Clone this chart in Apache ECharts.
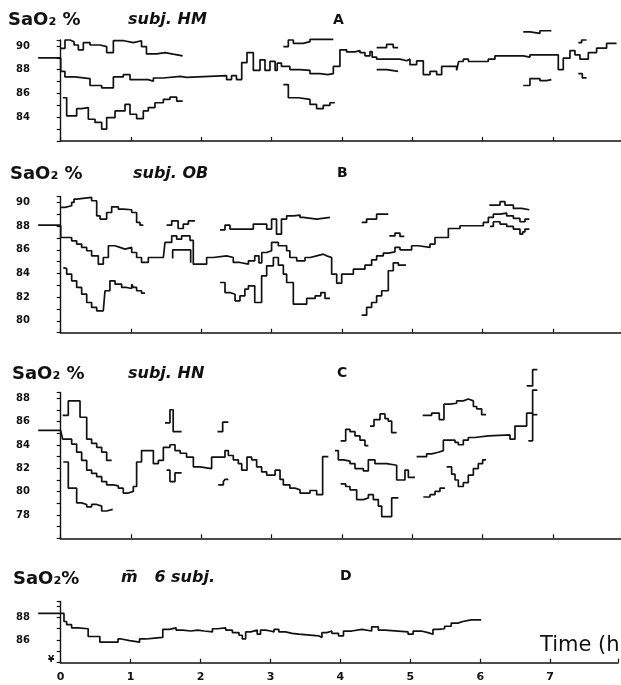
<!DOCTYPE html>
<html>
<head>
<meta charset="utf-8">
<script src="https://cdn.jsdelivr.net/npm/echarts@6/dist/echarts.min.js"></script>
<style>
  html, body { margin: 0; padding: 0; background: #fff; }
  #chart { width: 621px; height: 685px; }
</style>
</head>
<body>
<div id="chart"></div>
<script>
// time axis labels (hours)
const hourLabels = ['0', '1', '2', '3', '4', '5', '6', '7']

// ---- A: subj. HM  (points are [time h, SaO2 %], value holds until next point)
const hmPre = [[-0.32, 89.0], [0, 89.0]]
const hmMid = [[0, 89.0], [0.0, 87.86], [0.06, 87.39], [0.2, 87.25], [0.417, 86.67], [0.583, 86.47], [0.749, 87.39], [0.89, 87.58], [0.986, 87.17], [1.246, 87.03], [1.318, 87.3], [1.46, 87.44], [1.7, 87.35], [1.79, 87.5], [2.36, 87.17], [2.43, 87.5], [2.5, 87.17], [2.575, 88.6], [2.65, 89.44], [2.74, 87.94], [2.835, 88.83], [2.906, 87.94], [2.977, 88.7], [3.05, 87.94], [3.08, 88.56], [3.14, 88.28], [3.26, 88.0], [3.404, 87.94], [3.546, 87.67], [3.688, 87.58], [3.8, 87.67], [3.878, 88.28], [3.972, 89.67], [4.067, 89.5], [4.186, 89.61], [4.257, 89.44], [4.328, 89.17], [4.399, 89.53], [4.43, 89.06], [4.494, 88.89], [4.826, 88.75], [4.921, 88.89], [4.968, 88.42], [5.063, 88.75], [5.158, 87.58], [5.253, 87.86], [5.348, 87.58], [5.419, 88.28], [5.632, 87.94], [5.66, 88.69], [5.727, 88.89], [5.8, 88.69], [6.082, 88.89], [6.177, 89.17], [6.58, 89.06], [6.675, 89.25], [7.078, 88.0], [7.149, 88.97], [7.244, 89.61], [7.315, 89.25], [7.386, 88.89], [7.505, 89.44], [7.623, 89.81], [7.765, 90.22], [7.907, 90.22]]
const hmUp1 = [[0.0, 89.8], [0.061, 90.5], [0.132, 90.36], [0.19, 90.08], [0.251, 89.67], [0.322, 90.28], [0.417, 90.08], [0.56, 89.94], [0.654, 89.44], [0.749, 90.44], [0.9, 90.28], [1.033, 90.44], [1.15, 89.94], [1.22, 89.33], [1.365, 89.44], [1.483, 89.31], [1.6, 89.17], [1.735, 89.17]]
const hmUp2 = [[3.167, 89.94], [3.238, 90.5], [3.309, 90.22], [3.45, 90.36], [3.546, 90.56], [3.878, 90.56]]
const hmUp3 = [[4.494, 89.86], [4.636, 90.14], [4.73, 89.86], [4.8, 89.86]]
const hmUp4 = [[6.58, 91.19], [6.675, 91.06], [6.817, 91.28], [6.98, 91.28]]
const hmUp5 = [[7.363, 90.28], [7.41, 90.5], [7.48, 90.5]]
const hmMid2 = [[4.494, 88.0], [4.636, 87.86], [4.8, 87.86]]
const hmMid3 = [[7.363, 87.67], [7.42, 87.31], [7.48, 87.31]]
const hmLow1 = [[0.03, 85.64], [0.085, 84.11], [0.227, 84.72], [0.298, 84.81], [0.393, 83.83], [0.488, 83.56], [0.583, 83.0], [0.654, 83.97], [0.773, 84.53], [0.915, 85.08], [0.986, 84.25], [1.08, 83.89], [1.175, 84.53], [1.246, 84.81], [1.341, 85.22], [1.46, 85.5], [1.554, 85.69], [1.65, 85.36], [1.735, 85.36]]
const hmLow2 = [[3.167, 86.75], [3.238, 85.64], [3.38, 85.5], [3.546, 85.08], [3.64, 84.72], [3.735, 85.0], [3.83, 85.22], [3.9, 85.22]]
const hmLow3 = [[6.58, 86.67], [6.675, 87.25], [6.817, 87.08], [6.91, 87.17], [6.98, 87.17]]

// ---- B: subj. OB
const obPre = [[-0.32, 88.08], [0, 88.08]]
const obMid = [[0, 88.08], [0.0, 87.04], [0.156, 86.76], [0.227, 86.48], [0.298, 86.2], [0.37, 85.92], [0.44, 85.49], [0.535, 84.79], [0.606, 85.35], [0.678, 86.34], [0.773, 86.2], [0.843, 86.06], [0.915, 86.2], [1.01, 85.77], [1.08, 85.35], [1.15, 84.93], [1.246, 85.35], [1.46, 85.21], [1.484, 86.62], [1.579, 87.18], [1.65, 86.9], [1.72, 87.18], [1.839, 86.8], [1.886, 84.79], [2.076, 85.35], [2.17, 85.49], [2.36, 85.35], [2.455, 84.93], [2.55, 84.79], [2.67, 85.07], [2.76, 85.49], [2.82, 84.9], [2.86, 85.77], [2.93, 85.92], [3.0, 86.62], [3.096, 86.34], [3.214, 85.92], [3.26, 85.35], [3.357, 85.07], [3.475, 85.35], [3.55, 85.49], [3.64, 85.63], [3.736, 85.49], [3.783, 85.35], [3.854, 83.94], [3.926, 83.18], [3.997, 83.94], [4.163, 84.37], [4.328, 84.7], [4.423, 85.15], [4.494, 85.49], [4.589, 85.72], [4.66, 85.83], [4.755, 86.2], [4.826, 86.0], [4.992, 86.34], [5.087, 86.2], [5.253, 86.48], [5.324, 87.04], [5.514, 87.8], [5.68, 88.03], [6.012, 88.31], [6.083, 88.73], [6.154, 89.01], [6.249, 89.1], [6.344, 88.87], [6.439, 88.65], [6.533, 88.37], [6.604, 88.59], [6.666, 88.59]]
const obUp1 = [[0.0, 89.58], [0.061, 89.72], [0.156, 90.0], [0.19, 90.28], [0.227, 90.42], [0.44, 90.14], [0.512, 88.87], [0.56, 88.59], [0.654, 89.15], [0.725, 89.63], [0.82, 89.44], [0.89, 89.38], [1.01, 89.15], [1.08, 88.31], [1.128, 88.08], [1.175, 88.08]]
const obUp2 = [[1.507, 88.08], [1.579, 88.45], [1.67, 87.8], [1.744, 88.17], [1.816, 88.45], [1.91, 88.45]]
const obUp3 = [[2.266, 87.69], [2.337, 88.08], [2.408, 87.75], [2.74, 88.17], [2.93, 87.75], [3.0, 88.59], [3.07, 87.32], [3.14, 88.59], [3.214, 88.87], [3.309, 88.93], [3.404, 88.73], [3.45, 88.59], [3.641, 88.73], [3.831, 88.73]]
const obUp4 = [[4.281, 88.31], [4.352, 88.59], [4.494, 89.01], [4.66, 89.01]]
const obUp5 = [[4.675, 87.18], [4.755, 87.41], [4.826, 87.13], [4.888, 87.13]]
const obUp6 = [[6.097, 89.77], [6.249, 90.06], [6.32, 89.77], [6.439, 89.49], [6.557, 89.38], [6.666, 89.38]]
const obUp7 = [[6.107, 87.97], [6.154, 88.37], [6.249, 88.17], [6.344, 87.97], [6.439, 87.75], [6.533, 87.32], [6.571, 87.52], [6.604, 87.75], [6.666, 87.75]]
const obInner = [[1.593, 85.27], [1.593, 86.0], [1.849, 86.0], [1.849, 84.9]]
const obLow1 = [[0.037, 84.5], [0.061, 84.42], [0.085, 83.94], [0.156, 83.38], [0.227, 82.82], [0.298, 82.25], [0.37, 81.55], [0.44, 81.13], [0.512, 80.85], [0.606, 80.7], [0.63, 82.54], [0.7, 83.38], [0.773, 83.1], [0.867, 82.82], [0.938, 82.73], [1.01, 83.1], [1.033, 82.82], [1.08, 82.54], [1.15, 82.34], [1.2, 82.34]]
const obLow2 = [[2.266, 83.24], [2.337, 82.39], [2.408, 82.25], [2.48, 81.69], [2.55, 82.11], [2.62, 82.68], [2.67, 82.96], [2.76, 81.55], [2.858, 83.8], [2.93, 84.65], [3.025, 85.35], [3.096, 84.7], [3.167, 83.94], [3.214, 83.24], [3.309, 81.41], [3.499, 81.89], [3.62, 82.11], [3.7, 82.39], [3.76, 81.89], [3.831, 81.89]]
const obLow3 = [[4.281, 80.48], [4.352, 81.13], [4.423, 81.55], [4.494, 82.11], [4.566, 82.54], [4.66, 84.23], [4.731, 84.9], [4.803, 84.7], [4.912, 84.7]]

// ---- C: subj. HN
const hnPre = [[-0.32, 85.25], [0, 85.25]]
const hnMid1 = [[0, 85.25], [0.028, 84.5], [0.156, 84.08], [0.227, 83.38], [0.298, 82.68], [0.37, 81.84], [0.44, 81.56], [0.512, 81.28], [0.583, 80.86], [0.654, 80.58], [0.749, 80.49], [0.82, 80.3], [0.89, 79.88], [0.962, 80.02], [1.033, 80.44], [1.08, 82.54], [1.15, 83.52], [1.318, 82.4], [1.389, 82.68], [1.46, 83.8], [1.554, 84.02], [1.626, 83.52], [1.7, 83.29], [1.79, 82.96], [1.887, 82.12], [1.98, 81.98], [2.147, 82.96], [2.337, 83.52], [2.385, 83.1], [2.455, 82.73], [2.527, 82.4], [2.575, 81.84], [2.65, 82.96], [2.716, 82.73], [2.787, 82.12], [2.858, 81.7], [2.93, 81.42], [3.05, 81.84], [3.12, 81.05], [3.167, 80.58], [3.26, 80.3], [3.33, 80.16], [3.404, 79.88], [3.546, 80.1], [3.641, 79.74], [3.726, 83.01], [3.807, 83.01]]
const hnMid2 = [[3.902, 83.52], [3.949, 82.73], [4.02, 82.62], [4.115, 82.4], [4.186, 81.98], [4.305, 81.78], [4.376, 82.73], [4.47, 82.4], [4.637, 82.26], [4.779, 81.0], [4.897, 81.84], [4.945, 81.22], [5.04, 81.22]]
const hnMid3 = [[5.063, 83.01], [5.206, 83.24], [5.277, 83.38], [5.372, 83.52], [5.443, 84.41], [5.609, 84.22], [5.656, 84.02], [5.727, 84.41], [5.798, 84.64], [5.893, 84.78], [6.083, 84.86], [6.391, 84.5], [6.462, 85.62], [6.628, 86.74], [6.713, 86.74]]
const hnEnd1 = [[6.652, 84.36], [6.713, 84.36], [6.713, 88.7], [6.78, 88.7]]
const hnEnd2 = [[6.713, 86.6], [6.78, 86.6]]
const hnEnd3 = [[6.628, 89.06], [6.713, 89.06], [6.713, 90.46], [6.78, 90.46]]
const hnUp1 = [[0.028, 86.54], [0.108, 87.78], [0.275, 86.38], [0.37, 84.5], [0.44, 84.13], [0.512, 83.8], [0.583, 83.38], [0.654, 82.68], [0.725, 82.68]]
const hnUp2 = [[1.483, 85.9], [1.554, 87.02], [1.6, 85.14], [1.72, 85.14]]
const hnUp3 = [[2.23, 85.14], [2.304, 85.96], [2.385, 85.96]]
const hnUp4 = [[3.982, 84.36], [4.054, 85.34], [4.115, 85.14], [4.186, 84.78], [4.257, 84.41], [4.328, 83.94], [4.376, 83.94]]
const hnUp5 = [[4.4, 85.62], [4.457, 86.18], [4.542, 86.66], [4.613, 86.26], [4.66, 86.04], [4.708, 85.06], [4.779, 85.06]]
const hnUp6 = [[5.149, 86.54], [5.277, 86.74], [5.385, 86.18], [5.452, 87.5], [5.538, 87.58], [5.632, 87.78], [5.727, 87.94], [5.798, 87.78], [5.87, 87.3], [5.917, 87.1], [5.988, 86.6], [6.05, 86.6]]
const hnLow1 = [[0.037, 82.54], [0.108, 80.3], [0.227, 79.04], [0.298, 78.9], [0.37, 78.7], [0.44, 78.9], [0.512, 78.76], [0.583, 78.34], [0.654, 78.48], [0.74, 78.48]]
const hnLow2 = [[1.507, 81.84], [1.554, 80.86], [1.626, 81.61], [1.72, 81.61]]
const hnLow3 = [[2.24, 80.58], [2.314, 80.86], [2.337, 81.05], [2.385, 81.05]]
const hnLow4 = [[3.982, 80.66], [4.054, 80.44], [4.115, 80.16], [4.21, 79.32], [4.305, 79.46], [4.376, 79.74], [4.447, 79.32], [4.518, 78.76], [4.566, 77.86], [4.708, 79.46], [4.803, 79.46]]
const hnLow5 = [[5.158, 79.54], [5.253, 79.74], [5.324, 80.02], [5.395, 80.3], [5.467, 80.3]]
const hnLow6 = [[5.49, 82.12], [5.561, 81.5], [5.609, 81.0], [5.656, 80.44], [5.727, 80.77], [5.798, 81.42], [5.87, 81.98], [5.94, 82.4], [6.002, 82.73], [6.05, 82.73]]

// ---- D: mean of 6 subjects
const meanPre = [[-0.32, 88.34], [0, 88.34]]
const meanSix = [[0, 88.34], [0.047, 87.63], [0.085, 87.35], [0.156, 87.07], [0.251, 86.99], [0.393, 86.31], [0.56, 85.81], [0.82, 86.09], [0.867, 85.95], [0.986, 85.81], [1.128, 86.09], [1.22, 86.17], [1.341, 86.23], [1.46, 86.93], [1.554, 87.07], [1.65, 86.87], [1.744, 86.79], [1.863, 86.87], [1.958, 86.79], [2.053, 86.71], [2.17, 86.99], [2.24, 87.07], [2.36, 86.87], [2.455, 86.65], [2.55, 86.42], [2.597, 86.09], [2.645, 86.71], [2.716, 86.87], [2.81, 86.51], [2.858, 86.87], [2.93, 86.79], [3.0, 86.71], [3.05, 86.93], [3.12, 86.71], [3.214, 86.59], [3.309, 86.51], [3.404, 86.37], [3.688, 86.23], [3.736, 86.65], [3.807, 86.79], [3.878, 86.59], [3.973, 86.37], [4.044, 86.79], [4.163, 86.93], [4.305, 86.79], [4.447, 87.16], [4.542, 86.87], [4.637, 86.71], [4.968, 86.51], [5.04, 86.79], [5.158, 86.65], [5.253, 86.51], [5.324, 86.93], [5.395, 86.99], [5.49, 87.21], [5.585, 87.49], [5.68, 87.63], [5.751, 87.77], [5.87, 87.77], [6.012, 87.77]]

const ink = '#111'
// each panel: a narrow grid for the pre-sleep baseline (holds the visible y axis) and the main grid from t = 0
const panels = [
  { top: 40, height: 101, min: 82, max: 90.5, pre: hmPre, lines: [hmMid, hmUp1, hmUp2, hmUp3, hmUp4, hmUp5, hmMid2, hmMid3, hmLow1, hmLow2, hmLow3] },
  { top: 196.5, height: 136.2, min: 79, max: 90.5, pre: obPre, lines: [obMid, obUp1, obUp2, obUp3, obUp4, obUp5, obUp6, obUp7, obInner, obLow1, obLow2, obLow3] },
  { top: 392.5, height: 145.8, min: 76, max: 88.5, pre: hnPre, lines: [hnMid1, hnMid2, hnMid3, hnEnd1, hnEnd2, hnEnd3, hnUp1, hnUp2, hnUp3, hnUp4, hnUp5, hnUp6, hnLow1, hnLow2, hnLow3, hnLow4, hnLow5, hnLow6] },
  { top: 601.4, height: 61.3, min: 84, max: 89.4, pre: meanPre, lines: [meanSix] },
]

const lineStyle = { color: ink, width: 1.7 }
const grid = [], xAxis = [], yAxis = [], series = []
panels.forEach((p, i) => {
  const main = 2 * i, pre = 2 * i + 1
  grid[main] = { left: 60.7, width: 560.3, top: p.top, height: p.height }
  grid[pre] = { left: 37, width: 23.7, top: p.top, height: p.height }
  xAxis[main] = {
    type: 'value', gridIndex: main, min: 0, max: 7.97, interval: 1,
    splitLine: { show: false },
    axisLine: { lineStyle: { color: ink, width: 1.6 } },
    axisTick: { inside: true, length: 4, lineStyle: { color: ink, width: 1.2 } },
    axisLabel: {
      show: i === panels.length - 1, margin: 9, color: ink, fontSize: 11, fontWeight: 'bold',
      fontFamily: 'DejaVu Sans',
      formatter: v => (Number.isInteger(v) ? hourLabels[v] : ''),
    },
  }
  xAxis[pre] = { type: 'value', gridIndex: pre, min: -0.337, max: 0, show: false }
  yAxis[main] = { type: 'value', gridIndex: main, min: p.min, max: p.max, show: false }
  yAxis[pre] = {
    type: 'value', gridIndex: pre, min: p.min, max: p.max, interval: 1,
    splitLine: { show: false },
    axisLine: { show: true, lineStyle: { color: ink, width: 1.4 } },
    axisTick: { show: true, length: 4, lineStyle: { color: ink, width: 1.2 } },
    axisLabel: {
      margin: 7, color: ink, fontSize: 10, fontWeight: 'bold', fontFamily: 'DejaVu Sans',
      formatter: v => (Number.isInteger(v) && v % 2 === 0 && v > p.min ? String(v) : ''),
    },
  }
  series.push({
    type: 'line', xAxisIndex: pre, yAxisIndex: pre, data: p.pre, step: 'end',
    symbol: 'none', silent: true, lineStyle,
  })
  p.lines.forEach((d, k) => {
    const s = {
      type: 'line', xAxisIndex: main, yAxisIndex: main, data: d, step: 'end',
      symbol: 'none', clip: false, silent: true, lineStyle,
    }
    if (k === 0) {
      s.markLine = {
        silent: true, symbol: 'none', label: { show: false },
        lineStyle: { type: [3, 3], color: ink, width: 1 },
        data: [{ xAxis: 0 }],
      }
    }
    series.push(s)
  })
})

const titleFont = 'bold 18px "DejaVu Sans"'
const subjFont = 'italic bold 16px "DejaVu Sans"'
const letterFont = 'bold 14px "DejaVu Sans"'
const txt = (x, y, text, font) => ({ type: 'text', left: x, top: y, style: { text, font, fill: ink } })

const chart = echarts.init(document.getElementById('chart'), null, { renderer: 'canvas' })
chart.setOption({
  animation: false,
  backgroundColor: '#fff',
  grid, xAxis, yAxis, series,
  graphic: [
    txt(8, 11, 'SaO₂ %', titleFont), txt(128, 12, 'subj. HM', subjFont), txt(333, 13, 'A', letterFont),
    txt(10, 165, 'SaO₂ %', titleFont), txt(133, 166, 'subj. OB', subjFont), txt(337, 166, 'B', letterFont),
    txt(12, 365, 'SaO₂ %', titleFont), txt(128, 366, 'subj. HN', subjFont), txt(337, 366, 'C', letterFont),
    txt(13, 570, 'SaO₂%', titleFont), txt(121, 570, 'm\u0305   6 subj.', subjFont), txt(340, 569, 'D', letterFont),
    txt(540, 635, 'Time (h', '21px "DejaVu Sans"'),
    txt(48, 655, '¥', 'bold 9px "DejaVu Sans"'),
  ],
})
</script>
</body>
</html>
